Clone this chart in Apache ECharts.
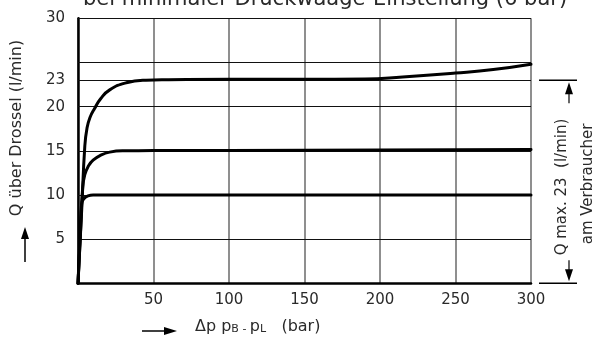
<!DOCTYPE html>
<html><head><meta charset="utf-8">
<script src="https://cdn.jsdelivr.net/npm/echarts@6/dist/echarts.min.js"></script>
<style>html,body{margin:0;padding:0;background:#fff}#c{width:602px;height:340px}</style>
</head><body><div id="c"></div>
<script>
// ---- data ----
const xTicks = [50, 100, 150, 200, 250, 300];
const yLabels = [5, 10, 15, 20, 23, 30];
const yGridLines = [5, 10, 15, 20, 23, 25, 30];
const curve23 = [[0,0],[2.5,8.5],[4.5,15.5],[6,17.6],[8,18.8],[11,19.8],[15,20.9],[21,21.9],[32,22.7],[45,23.0],[60,23.05],[100,23.1],[150,23.1],[190,23.12],[215,23.35],[250,23.8],[275,24.2],[300,24.8]];
const curve15 = [[0,0],[2,7],[3,10.6],[4.5,12.3],[7,13.3],[10,13.95],[15,14.5],[21,14.85],[30,15.0],[50,15.02],[100,15.03],[200,15.08],[300,15.15]];
const curve10 = [[0,0],[1.5,6],[2.4,9.0],[4,9.6],[6,9.85],[10,10.0],[50,10.0],[150,10.0],[300,10.0]];
const titleText = 'bei minimaler Druckwaage-Einstellung (6 bar)';
const yName = 'Q über Drossel (l/min)';
const rightText1 = 'Q max. 23  (l/min)';
const rightText2 = 'am Verbraucher';

const FONT = '"DejaVu Sans", "Liberation Sans", sans-serif';
const TXT = '#2a2a2a';
const chart = echarts.init(document.getElementById('c'));

function lineSeries(data, withGrid) {
  const s = {
    type: 'line', data: data, symbol: 'none', smooth: 0.5,
    lineStyle: {color: '#000', width: 3, join: 'round', cap: 'round'}, z: 5, silent: true
  };
  if (withGrid) {
    s.markLine = {
      silent: true, symbol: ['none', 'none'], label: {show: false},
      lineStyle: {color: '#111', width: 1, type: 'solid'},
      emphasis: {disabled: true}, animation: false,
      data: yGridLines.map(v => ({yAxis: v}))
    };
  }
  return s;
}

chart.setOption({
  animation: false,
  grid: {left: 78, right: 71, top: 18.3, bottom: 56.7},
  xAxis: {
    type: 'value', min: 0, max: 300, interval: 50,
    axisLine: {show: true, lineStyle: {color: '#000', width: 2.5}},
    axisTick: {show: false},
    axisLabel: {formatter: v => xTicks.includes(v) ? String(v) : '', margin: 9,
      fontSize: 15, color: TXT, fontFamily: FONT},
    splitLine: {show: true, lineStyle: {color: '#6a6a6a', width: 1.5}}
  },
  yAxis: {
    type: 'value', min: 0, max: 30, interval: 1,
    axisLine: {show: true, lineStyle: {color: '#000', width: 2.5}},
    axisTick: {show: false},
    axisLabel: {formatter: v => yLabels.includes(v) ? String(v) : '', margin: 13,
      fontSize: 15, color: TXT, fontFamily: FONT},
    splitLine: {show: false}
  },
  series: [lineSeries(curve23, true), lineSeries(curve15, false), lineSeries(curve10, false)]
});

const p23 = chart.convertToPixel({gridIndex: 0}, [300, 23]);
const p0 = chart.convertToPixel({gridIndex: 0}, [300, 0]);
const yTop = p23[1], yBot = p0[1];
const ax = 569;

chart.setOption({
  graphic: [
    {type: 'text', x: 325, y: -0.5, style: {text: titleText, font: '21px ' + FONT, fill: TXT, align: 'center', verticalAlign: 'middle'}},
    {type: 'text', x: 17, y: 128, rotation: Math.PI / 2, style: {text: yName, font: '16px ' + FONT, fill: TXT, align: 'center', verticalAlign: 'middle'}},
    {type: 'line', shape: {x1: 25, y1: 262, x2: 25, y2: 237}, style: {stroke: '#000', lineWidth: 1.5}},
    {type: 'polygon', shape: {points: [[25, 227], [21, 239], [29, 239]]}, style: {fill: '#000'}},
    {type: 'line', shape: {x1: 142, y1: 331, x2: 166, y2: 331}, style: {stroke: '#000', lineWidth: 1.5}},
    {type: 'polygon', shape: {points: [[177, 331], [164, 327], [164, 335]]}, style: {fill: '#000'}},
    {type: 'text', x: 195, y: 327, style: {
      text: '{n|Δp} {n|p}{s|B - }{n|p}{s|L}{n|   (bar)}',
      font: '16px ' + FONT, fill: TXT, align: 'left', verticalAlign: 'middle',
      rich: {n: {font: '16px ' + FONT, fill: TXT}, s: {font: '11px ' + FONT, fill: TXT, verticalAlign: 'bottom'}}
    }},
    {type: 'line', shape: {x1: 539, y1: yTop, x2: 577, y2: yTop}, style: {stroke: '#000', lineWidth: 1.5}},
    {type: 'line', shape: {x1: 539, y1: yBot, x2: 577, y2: yBot}, style: {stroke: '#000', lineWidth: 1.5}},
    {type: 'polygon', shape: {points: [[ax, yTop + 2], [ax - 4, yTop + 14], [ax + 4, yTop + 14]]}, style: {fill: '#000'}},
    {type: 'line', shape: {x1: ax, y1: yTop + 13, x2: ax, y2: yTop + 23}, style: {stroke: '#000', lineWidth: 1.2}},
    {type: 'polygon', shape: {points: [[ax, yBot - 2], [ax - 4, yBot - 14], [ax + 4, yBot - 14]]}, style: {fill: '#000'}},
    {type: 'line', shape: {x1: ax, y1: yBot - 13, x2: ax, y2: yBot - 23}, style: {stroke: '#000', lineWidth: 1.2}},
    {type: 'text', x: 562, y: 187, rotation: Math.PI / 2, style: {text: rightText1, font: '15px ' + FONT, fill: TXT, align: 'center', verticalAlign: 'middle'}},
    {type: 'text', x: 588, y: 184, rotation: Math.PI / 2, style: {text: rightText2, font: '15px ' + FONT, fill: TXT, align: 'center', verticalAlign: 'middle'}}
  ]
});
</script>
</body></html>
